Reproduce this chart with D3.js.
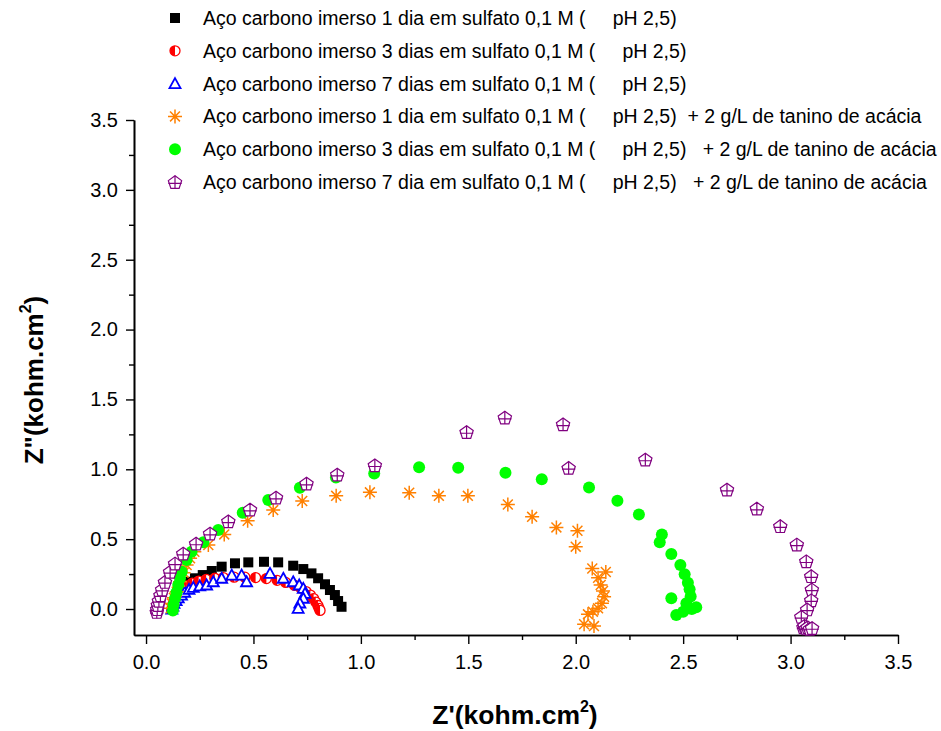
<!DOCTYPE html>
<html>
<head>
<meta charset="utf-8">
<script src="https://cdn.jsdelivr.net/npm/d3@7"></script>
<style>
  body { margin: 0; background: #fff; }
  svg { display: block; }
  text { font-family: "Liberation Sans", Arial, sans-serif; fill: #000; }
</style>
</head>
<body>
<svg id="chart" width="941" height="731"></svg>
<script>
// Nyquist data, Z' and Z'' in kohm.cm2
const legendLabels = [
  "Aço carbono imerso 1 dia em sulfato 0,1 M (     pH 2,5)",
  "Aço carbono imerso 3 dias em sulfato 0,1 M (     pH 2,5)",
  "Aço carbono imerso 7 dias em sulfato 0,1 M (     pH 2,5)",
  "Aço carbono imerso 1 dia em sulfato 0,1 M (     pH 2,5)  + 2 g/L de tanino de acácia",
  "Aço carbono imerso 3 dias em sulfato 0,1 M (     pH 2,5)   + 2 g/L de tanino de acácia",
  "Aço carbono imerso 7 dia em sulfato 0,1 M (     pH 2,5)   + 2 g/L de tanino de acácia"
];

const day1 = [
  [0.126,0.014],[0.13,0.043],[0.14,0.08],[0.153,0.12],[0.172,0.165],[0.197,0.195],
  [0.228,0.22],[0.264,0.243],[0.306,0.272],[0.352,0.303],[0.414,0.327],[0.476,0.334],
  [0.549,0.338],[0.615,0.334],[0.685,0.31],[0.732,0.286],[0.77,0.255],[0.801,0.22],
  [0.833,0.177],[0.856,0.136],[0.879,0.10],[0.894,0.057],[0.91,0.016]
];
const day3 = [
  [0.12,0.0],[0.125,0.03],[0.13,0.06],[0.14,0.09],[0.155,0.12],[0.17,0.145],
  [0.19,0.165],[0.215,0.185],[0.245,0.2],[0.28,0.212],[0.32,0.22],[0.36,0.225],
  [0.41,0.228],[0.46,0.228],[0.51,0.225],[0.56,0.218],[0.61,0.205],[0.65,0.19],
  [0.69,0.17],[0.72,0.15],[0.745,0.125],[0.765,0.1],[0.78,0.075],[0.79,0.05],
  [0.80,0.025],[0.805,0.005],[0.81,-0.01]
];
const day7 = [
  [0.12,0.0],[0.125,0.02],[0.13,0.04],[0.14,0.06],[0.15,0.08],[0.165,0.1],
  [0.18,0.12],[0.2,0.14],[0.22,0.155],[0.25,0.165],[0.282,0.172],[0.313,0.195],
  [0.352,0.22],[0.399,0.243],[0.445,0.243],[0.468,0.195],[0.577,0.255],[0.639,0.22],
  [0.685,0.195],[0.713,0.172],[0.732,0.148],[0.74,0.112],[0.732,0.077],[0.716,0.043],
  [0.708,0.005]
];
const tannin1 = [
  [0.115,0.005],[0.12,0.04],[0.13,0.08],[0.143,0.124],[0.158,0.195],[0.175,0.26],
  [0.189,0.315],[0.205,0.363],[0.225,0.41],[0.29,0.458],[0.364,0.534],[0.473,0.632],
  [0.592,0.708],[0.727,0.773],[0.885,0.81],[1.042,0.835],[1.225,0.832],[1.363,0.81],
  [1.498,0.81],[1.684,0.748],[1.797,0.66],[1.91,0.584],[2.008,0.56],[2.0,0.446],
  [2.077,0.29],[2.14,0.265],[2.104,0.224],[2.116,0.172],[2.127,0.129],[2.132,0.088],
  [2.122,0.041],[2.104,0.005],[2.08,-0.019],[2.057,-0.038],[2.039,-0.109],[2.085,-0.122]
];
const tannin3 = [
  [0.125,-0.01],[0.128,0.03],[0.135,0.077],[0.142,0.12],[0.15,0.172],[0.158,0.22],
  [0.166,0.267],[0.189,0.35],[0.212,0.41],[0.267,0.477],[0.336,0.565],[0.45,0.689],
  [0.569,0.78],[0.716,0.868],[0.884,0.942],[1.062,0.97],[1.271,1.014],[1.453,1.011],
  [1.673,0.975],[1.842,0.928],[2.062,0.87],[2.194,0.775],[2.294,0.677],[2.401,0.534],
  [2.391,0.477],[2.445,0.393],[2.487,0.315],[2.507,0.248],[2.522,0.188],[2.53,0.141],
  [2.535,0.09],[2.445,0.077],[2.515,0.041],[2.561,0.012],[2.54,0.0],[2.5,-0.02],
  [2.468,-0.043]
];
const tannin7 = [
  [0.05,-0.02],[0.052,0.0],[0.055,0.03],[0.06,0.06],[0.067,0.1],[0.075,0.14],
  [0.088,0.195],[0.112,0.267],[0.135,0.327],[0.173,0.398],[0.233,0.47],[0.298,0.541],
  [0.383,0.629],[0.484,0.713],[0.605,0.799],[0.747,0.899],[0.89,0.963],[1.065,1.03],
  [1.492,1.268],[1.67,1.371],[1.941,1.323],[1.967,1.011],[2.324,1.071],[2.704,0.856],
  [2.843,0.72],[2.952,0.594],[3.029,0.463],[3.073,0.343],[3.096,0.236],[3.099,0.141],
  [3.096,0.064],[3.077,-0.002],[3.05,-0.055],[3.06,-0.13],[3.065,-0.12],[3.073,-0.138],
  [3.08,-0.13],[3.09,-0.14],[3.1,-0.135]
];

const majorTicks = [0.0, 0.5, 1.0, 1.5, 2.0, 2.5, 3.0, 3.5];
const minorTicks = [0.25, 0.75, 1.25, 1.75, 2.25, 2.75, 3.25];

const svg = d3.select("#chart");
const x = d3.scaleLinear().domain([-0.056, 3.5]).range([134, 898]);
const y = d3.scaleLinear().domain([-0.186, 3.5]).range([635, 120]);

// axes
const fmt = d3.format(".1f");
function styleAxis(g) {
  g.selectAll("path.domain").attr("stroke", "#000").attr("stroke-width", 1.6);
  g.selectAll(".tick line").attr("stroke", "#000").attr("stroke-width", 1.4);
  g.selectAll("text").style("font-family", '"Liberation Sans", Arial, sans-serif')
    .style("font-size", "20px").attr("fill", "#000");
}
svg.append("g").attr("transform", "translate(0,635)")
  .call(d3.axisBottom(x).tickValues(minorTicks).tickSize(5).tickFormat("").tickSizeOuter(0))
  .call(styleAxis);
svg.append("g").attr("transform", "translate(0,635)")
  .call(d3.axisBottom(x).tickValues(majorTicks).tickSize(9).tickPadding(11).tickFormat(fmt).tickSizeOuter(0))
  .call(styleAxis);
svg.append("g").attr("transform", "translate(134,0)")
  .call(d3.axisLeft(y).tickValues(minorTicks).tickSize(5).tickFormat("").tickSizeOuter(0))
  .call(styleAxis);
svg.append("g").attr("transform", "translate(134,0)")
  .call(d3.axisLeft(y).tickValues(majorTicks).tickSize(8).tickPadding(8).tickFormat(fmt).tickSizeOuter(0))
  .call(styleAxis);

// axis titles
const xt = svg.append("text").attr("x", 515).attr("y", 724).attr("text-anchor", "middle")
  .style("font-size", "26.5px").style("font-weight", "bold");
xt.append("tspan").text("Z'(kohm.cm");
xt.append("tspan").attr("dy", -12).style("font-size", "16px").text("2");
xt.append("tspan").attr("dy", 12).text(")");

const yt = svg.append("text").attr("transform", "translate(43,380) rotate(-90)")
  .attr("text-anchor", "middle").style("font-size", "26px").style("font-weight", "bold");
yt.append("tspan").text("Z\"(kohm.cm");
yt.append("tspan").attr("dy", -12).style("font-size", "16px").text("2");
yt.append("tspan").attr("dy", 12).text(")");

// marker painters
const markers = [
  function (g) {
    g.append("rect").attr("x", -5).attr("y", -5).attr("width", 10).attr("height", 10).attr("fill", "#000");
  },
  function (g) {
    g.append("circle").attr("r", 5).attr("fill", "#fff").attr("stroke", "#ff0000").attr("stroke-width", 1.3);
    g.append("path").attr("d", "M0,-5A5,5 0 0,0 0,5Z").attr("fill", "#ff0000");
  },
  function (g) {
    g.append("path").attr("d", "M0,-5.5L5.5,4.5L-5.5,4.5Z").attr("fill", "#fff")
      .attr("stroke", "#0000ff").attr("stroke-width", 1.8).attr("stroke-linejoin", "miter");
  },
  function (g) {
    const r = 7;
    let d = "";
    [0, 45, 90, 135].forEach(a => {
      const t = a * Math.PI / 180;
      d += `M${-r * Math.cos(t)},${-r * Math.sin(t)}L${r * Math.cos(t)},${r * Math.sin(t)}`;
    });
    g.append("path").attr("d", d).attr("stroke", "#ff8000").attr("stroke-width", 1.5).attr("fill", "none");
  },
  function (g) {
    g.append("circle").attr("r", 6).attr("fill", "#00ff00");
  },
  function (g) {
    const r = 7;
    const pts = d3.range(5).map(i => {
      const t = -Math.PI / 2 + i * 2 * Math.PI / 5;
      return [r * Math.cos(t), r * Math.sin(t) + 0.8];
    });
    g.append("path").attr("d", "M" + pts.map(p => p.join(",")).join("L") + "Z")
      .attr("fill", "#fff").attr("stroke", "#800080").attr("stroke-width", 1.2);
    const bot = pts[2][1];
    g.append("path").attr("d", `M0,${pts[0][1]}L0,${bot}M${pts[4][0]},1.4L${pts[1][0]},1.4`)
      .attr("stroke", "#800080").attr("stroke-width", 1.2).attr("fill", "none");
  }
];

const series = [day1, day3, day7, tannin1, tannin3, tannin7];
series.forEach((data, i) => {
  const g = svg.append("g").attr("class", "series-" + i);
  g.selectAll("g").data(data).join("g")
    .attr("transform", d => `translate(${x(d[0])},${y(d[1])})`)
    .each(function () { markers[i](d3.select(this)); });
});

// legend
const legend = svg.append("g");
legendLabels.forEach((label, i) => {
  const cy = 18 + i * 32.8;
  const m = legend.append("g").attr("transform", `translate(175,${cy})`);
  markers[i](m);
  legend.append("text").attr("x", 203).attr("y", cy + 7)
    .style("font-size", "19.5px").style("white-space", "pre").attr("xml:space", "preserve").text(label);
});
</script>
</body>
</html>
